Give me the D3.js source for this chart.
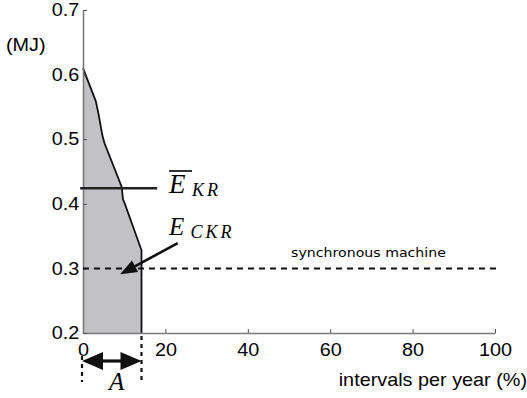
<!DOCTYPE html>
<html><head><meta charset="utf-8">
<script src="https://cdn.jsdelivr.net/npm/d3@7"></script>
<style>
body{margin:0;background:#fff;}
svg{display:block;}
</style></head>
<body>
<svg id="c" width="527" height="398"></svg>
<script>
const xTicks = [0, 20, 40, 60, 80, 100];
const yTicks = [0.2, 0.3, 0.4, 0.5, 0.6, 0.7];
const curveX = [0, 3.1, 3.8, 4.7, 5.2, 9.4, 9.7, 10.1, 14.2];
const curveY = [0.610, 0.559, 0.538, 0.506, 0.494, 0.426, 0.407, 0.401, 0.328];
const ekrValue = 0.424, ekrRange = [-0.7, 18];
const syncValue = 0.3, syncRange = [0, 101];
const arrowFrom = [23, 0.339], arrowTo = [9, 0.291];
const spanA = [0, 14.2];

const svg = d3.select("#c");
const x = d3.scaleLinear().domain([0, 100]).range([83, 495]);
const y = d3.scaleLinear().domain([0.2, 0.7]).range([333, 10]);
const font = "'Liberation Sans', Arial, sans-serif";
const serif = "'Liberation Serif', 'Times New Roman', serif";
const SX = 1.12;

function stext(px, py, sx) {
  return svg.append("text").attr("transform", `translate(${px},${py}) scale(${sx},1)`);
}

const pts = curveX.map((v, i) => [v, curveY[i]]);
svg.append("path")
  .datum(pts)
  .attr("d", d3.area().x(d => x(d[0])).y0(y(0.2)).y1(d => y(d[1])))
  .attr("fill", "#c2c2c6");
const linePts = pts.concat([[curveX[curveX.length - 1], 0.2]]);
svg.append("path")
  .datum(linePts)
  .attr("d", d3.line().x(d => x(d[0])).y(d => y(d[1])))
  .attr("fill", "none").attr("stroke", "#111").attr("stroke-width", 1.8);

// axes
const gx = svg.append("g").attr("transform", `translate(0,${y(0.2)})`)
  .call(d3.axisBottom(x).tickValues(xTicks).tickFormat(d3.format("d")).tickSizeInner(-4).tickSizeOuter(0).tickPadding(10.5));
const gy = svg.append("g").attr("transform", `translate(${x(0)},0)`)
  .call(d3.axisLeft(y).tickValues(yTicks).tickFormat(d3.format(".1f")).tickSizeInner(-4).tickSizeOuter(0).tickPadding(3.3));
[gx, gy].forEach(g => {
  g.select(".domain").attr("stroke", "#7a7a7a").attr("stroke-width", 1.6);
  g.selectAll(".tick line").attr("stroke", "#555").attr("stroke-width", 1);
  g.selectAll("text").attr("font-family", font).attr("font-size", 17.7).attr("fill", "#000")
    .attr("transform", `scale(${SX},1)`);
});

// sync dashed line
svg.append("line")
  .attr("x1", x(syncRange[0])).attr("x2", x(syncRange[1]))
  .attr("y1", y(syncValue)).attr("y2", y(syncValue))
  .attr("stroke", "#111").attr("stroke-width", 2).attr("stroke-dasharray", "6,5");
stext(368.5, 256.5, 1.15).attr("text-anchor", "middle")
  .attr("font-family", "'DejaVu Sans', sans-serif").attr("font-size", 12.3).text("synchronous machine");

// E_KR line
svg.append("line")
  .attr("x1", x(ekrRange[0])).attr("x2", x(ekrRange[1]))
  .attr("y1", y(ekrValue)).attr("y2", y(ekrValue))
  .attr("stroke", "#222").attr("stroke-width", 2.4);

// E_KR label
svg.append("text").attr("x", 169).attr("y", 193.3).attr("font-family", serif).attr("font-style", "italic")
  .attr("font-size", 27).text("E");
svg.append("text").attr("x", 192).attr("y", 195.5).attr("font-family", serif).attr("font-style", "italic")
  .attr("font-size", 18).attr("letter-spacing", 3).text("KR");
svg.append("line").attr("x1", 169).attr("x2", 192).attr("y1", 171).attr("y2", 171).attr("stroke", "#000").attr("stroke-width", 1.6);

// E_CKR label
svg.append("text").attr("x", 169).attr("y", 235).attr("font-family", serif).attr("font-style", "italic")
  .attr("font-size", 25).text("E");
svg.append("text").attr("x", 190.5).attr("y", 237.5).attr("font-family", serif).attr("font-style", "italic")
  .attr("font-size", 18).attr("letter-spacing", 3).text("CKR");

function arrowHead(tip, from, len, half) {
  const dx = tip[0] - from[0], dy = tip[1] - from[1];
  const L = Math.hypot(dx, dy), ux = dx / L, uy = dy / L;
  const bx = tip[0] - ux * len, by = tip[1] - uy * len;
  return `M${tip[0]},${tip[1]}L${bx - uy * half},${by + ux * half}L${bx + uy * half},${by - ux * half}Z`;
}
const af = [x(arrowFrom[0]), y(arrowFrom[1])], at = [x(arrowTo[0]), y(arrowTo[1])];
{
  const dx = at[0] - af[0], dy = at[1] - af[1], L = Math.hypot(dx, dy);
  svg.append("line").attr("x1", af[0]).attr("y1", af[1])
    .attr("x2", at[0] - dx / L * 12).attr("y2", at[1] - dy / L * 12)
    .attr("stroke", "#111").attr("stroke-width", 2.6);
  svg.append("path").attr("d", arrowHead(at, af, 17, 6.5)).attr("fill", "#111");
}

// A span
const ay = 361;
const aL = [x(spanA[0]) - 1, ay], aR = [x(spanA[1]), ay];
svg.append("line").attr("x1", aL[0] + 15).attr("x2", aR[0] - 15).attr("y1", ay).attr("y2", ay)
  .attr("stroke", "#111").attr("stroke-width", 3.2);
svg.append("path").attr("d", arrowHead(aL, aR, 21, 9)).attr("fill", "#111");
svg.append("path").attr("d", arrowHead(aR, aL, 21, 9)).attr("fill", "#111");
svg.append("line").attr("x1", aL[0]).attr("x2", aL[0]).attr("y1", 356).attr("y2", 382)
  .attr("stroke", "#111").attr("stroke-width", 2.2).attr("stroke-dasharray", "4,4");
svg.append("line").attr("x1", aR[0]).attr("x2", aR[0]).attr("y1", 336).attr("y2", 382)
  .attr("stroke", "#111").attr("stroke-width", 2.2).attr("stroke-dasharray", "4,4");
svg.append("text").attr("x", 109).attr("y", 390).attr("font-family", serif).attr("font-style", "italic")
  .attr("font-size", 25).text("A");

// axis titles
stext(6, 51, SX).attr("font-family", font).attr("font-size", 17.7).text("(MJ)");
stext(527, 386, SX).attr("text-anchor", "end").attr("font-family", font).attr("font-size", 17.7).text("intervals per year (%)");
</script>
</body></html>
